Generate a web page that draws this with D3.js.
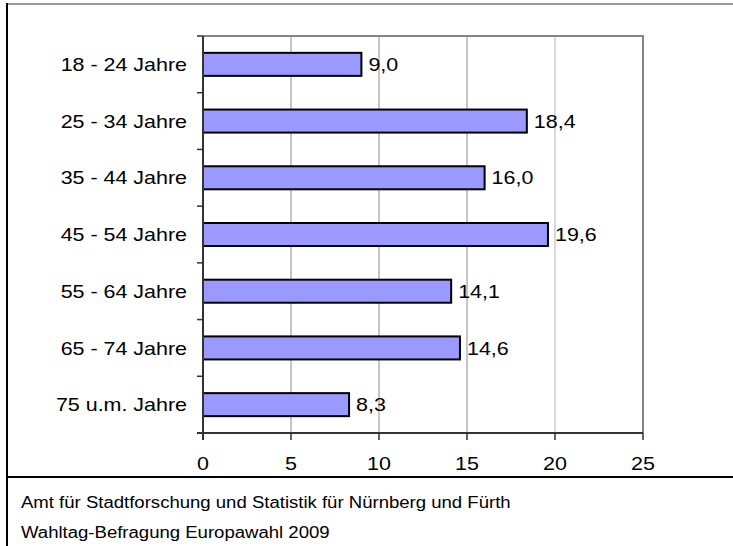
<!DOCTYPE html>
<meta charset="utf-8">
<style>
    body {
        margin: 0;
        padding: 0;
        background: #fff;
    }
    text {
        font-family: Arial, "Liberation Sans", sans-serif;
        fill: #000;
    }
    .bar {
        fill: #9999ff;
        stroke: #000;
        stroke-width: 2;
    }
    .grid line {
        stroke: #8c8c8c;
        stroke-width: 1;
    }
</style>
<body>
<script src="https://d3js.org/d3.v7.min.js"></script>
<script>
    // Altersgruppen und Werte
    var categories = ["18 - 24 Jahre", "25 - 34 Jahre", "35 - 44 Jahre", "45 - 54 Jahre",
                      "55 - 64 Jahre", "65 - 74 Jahre", "75 u.m. Jahre"];
    var values = [9.0, 18.4, 16.0, 19.6, 14.1, 14.6, 8.3];
    var xTicks = [0, 5, 10, 15, 20, 25];
    var footer = ["Amt für Stadtforschung und Statistik für Nürnberg und Fürth",
                  "Wahltag-Befragung Europawahl 2009"];

    var width = 733,
        height = 546;

    var plot = {left: 203, right: 643, top: 36, bottom: 433};

    // the original text is a bit wider than Arial
    var stretch = 1.16;
    function place(sel, fx, fy) {
        sel.attr("transform", function(d, i) {
            return "translate(" + fx(d, i) + "," + fy(d, i) + ") scale(" + stretch + ",1)";
        });
    }

    var svg = d3.select("body")
        .append("svg")
        .attr("width", width)
        .attr("height", height);

    // outer frame
    svg.append("line")
        .attr("x1", 7).attr("x2", width)
        .attr("y1", 4).attr("y2", 4)
        .style("stroke", "#9a9a9a")
        .style("stroke-width", 2);
    svg.append("line")
        .attr("x1", 7).attr("x2", 7)
        .attr("y1", 3).attr("y2", height)
        .style("stroke", "#000")
        .style("stroke-width", 2);
    svg.append("line")
        .attr("x1", 7).attr("x2", width)
        .attr("y1", 477).attr("y2", 477)
        .style("stroke", "#000")
        .style("stroke-width", 2);

    var x = d3.scaleLinear()
        .domain([0, 25])
        .range([plot.left, plot.right]);

    var y = d3.scaleBand()
        .domain(categories)
        .range([plot.top, plot.bottom])
        .paddingInner(0.594)
        .paddingOuter(0.297);

    // gridlines
    svg.append("g")
        .attr("class", "grid")
        .selectAll("line")
        .data(xTicks.slice(1, -1))
        .enter().append("line")
        .attr("x1", function(d) { return x(d); })
        .attr("x2", function(d) { return x(d); })
        .attr("y1", plot.top)
        .attr("y2", plot.bottom)
        .style("stroke", function(d) { return d === 20 ? "#b4b4b4" : null; });

    // plot border top / right
    svg.append("path")
        .attr("d", "M" + plot.left + "," + plot.top + "H" + plot.right + "V" + plot.bottom)
        .style("fill", "none")
        .style("stroke", "#858585")
        .style("stroke-width", 2);

    // bars
    svg.append("g")
        .selectAll("rect")
        .data(values)
        .enter().append("rect")
        .attr("class", "bar")
        .attr("x", x(0))
        .attr("y", function(d, i) { return y(categories[i]); })
        .attr("width", function(d) { return x(d) - x(0); })
        .attr("height", y.bandwidth());

    // value labels
    svg.append("g")
        .selectAll("text")
        .data(values)
        .enter().append("text")
        .attr("dy", "0.36em")
        .style("font-size", "18.5px")
        .call(place,
              function(d) { return x(d) + 7; },
              function(d, i) { return y(categories[i]) + y.bandwidth() / 2; })
        .text(function(d) { return d3.format(".1f")(d).replace(".", ","); });

    // category axis
    var step = y.step();
    var yAxis = svg.append("g");
    yAxis.append("line")
        .attr("x1", plot.left).attr("x2", plot.left)
        .attr("y1", plot.top).attr("y2", plot.bottom + 7)
        .style("stroke", "#333")
        .style("stroke-width", 2);
    yAxis.selectAll(".tick")
        .data(d3.range(categories.length + 1))
        .enter().append("line")
        .attr("x1", plot.left - 6).attr("x2", plot.left)
        .attr("y1", function(i) { return plot.top + i * step; })
        .attr("y2", function(i) { return plot.top + i * step; })
        .style("stroke", "#333")
        .style("stroke-width", 1.5);
    yAxis.selectAll("text")
        .data(categories)
        .enter().append("text")
        .attr("dy", "0.36em")
        .attr("text-anchor", "end")
        .style("font-size", "18.5px")
        .call(place,
              function() { return 187; },
              function(d) { return y(d) + y.bandwidth() / 2; })
        .text(function(d) { return d; });

    // value axis
    var xAxis = svg.append("g");
    xAxis.append("line")
        .attr("x1", plot.left - 6).attr("x2", plot.right)
        .attr("y1", plot.bottom).attr("y2", plot.bottom)
        .style("stroke", "#333")
        .style("stroke-width", 2);
    xAxis.selectAll(".tick")
        .data(xTicks)
        .enter().append("line")
        .attr("x1", function(d) { return x(d); })
        .attr("x2", function(d) { return x(d); })
        .attr("y1", plot.bottom)
        .attr("y2", plot.bottom + 7)
        .style("stroke", "#333")
        .style("stroke-width", 1.5);
    xAxis.selectAll("text")
        .data(xTicks)
        .enter().append("text")
        .attr("dy", "0.36em")
        .attr("text-anchor", "middle")
        .style("font-size", "18.5px")
        .call(place,
              function(d) { return x(d); },
              function() { return 463; })
        .text(function(d) { return d; });

    // footer
    svg.append("g")
        .selectAll("text")
        .data(footer)
        .enter().append("text")
        .attr("dy", "0.36em")
        .style("font-size", "16px")
        .call(place,
              function() { return 21; },
              function(d, i) { return 502 + i * 30; })
        .text(function(d) { return d; });
</script>
</body>
</html>
